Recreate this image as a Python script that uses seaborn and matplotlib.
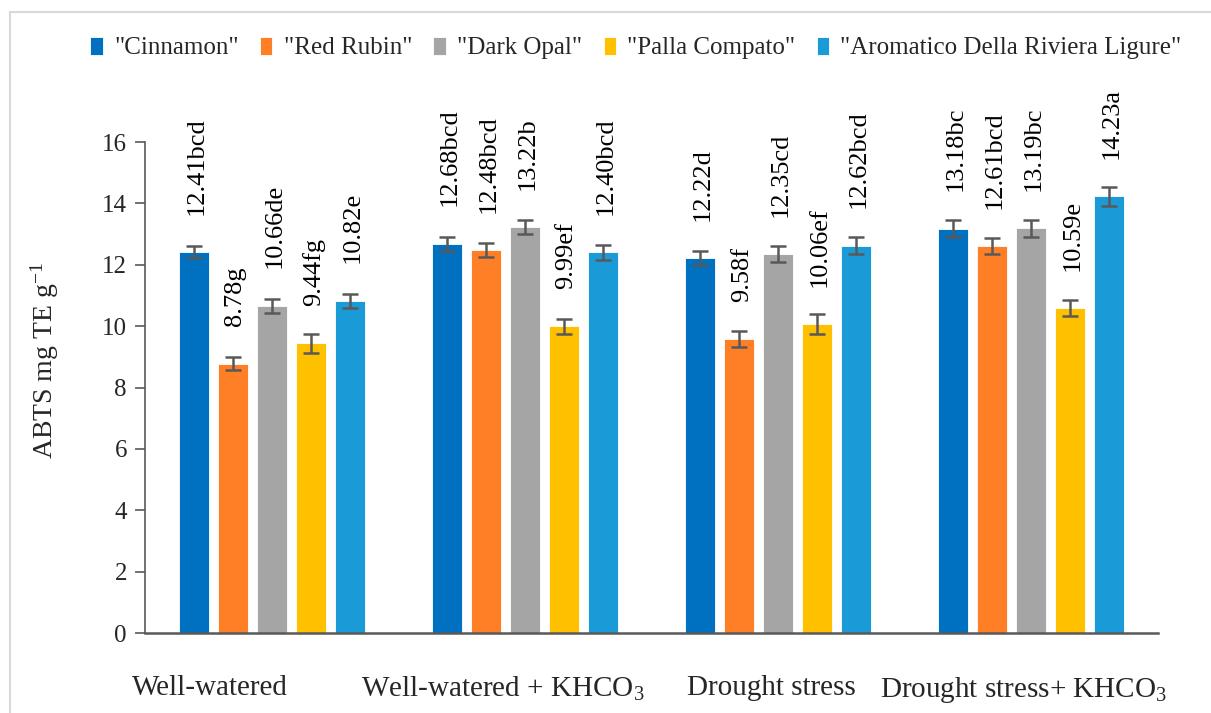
import pandas as pd
import seaborn as sns
import matplotlib.pyplot as plt
from matplotlib.patches import Rectangle
from matplotlib.transforms import ScaledTranslation

# data
treatments = ["Well-watered", "Well-watered + KHCO$_3$", "Drought stress", "Drought stress+ KHCO$_3$"]
cultivars = ['"Cinnamon"', '"Red Rubin"', '"Dark Opal"', '"Palla Compato"', '"Aromatico Della Riviera Ligure"']
colors = ["#0070C0", "#FF7F27", "#A5A5A5", "#FFC000", "#1A9BD7"]

cinnamon = [12.41, 12.68, 12.22, 13.18]
red_rubin = [8.78, 12.48, 9.58, 12.61]
dark_opal = [10.66, 13.22, 12.35, 13.19]
palla = [9.44, 9.99, 10.06, 10.59]
aromatico = [10.82, 12.40, 12.62, 14.23]

cinnamon_err = [0.20, 0.23, 0.22, 0.29]
red_rubin_err = [0.20, 0.22, 0.25, 0.27]
dark_opal_err = [0.24, 0.23, 0.25, 0.27]
palla_err = [0.31, 0.23, 0.33, 0.26]
aromatico_err = [0.24, 0.24, 0.27, 0.32]

cinnamon_let = ["bcd", "bcd", "d", "bc"]
red_rubin_let = ["g", "bcd", "f", "bcd"]
dark_opal_let = ["de", "b", "cd", "bc"]
palla_let = ["fg", "ef", "ef", "e"]
aromatico_let = ["e", "bcd", "bcd", "a"]

values = [cinnamon, red_rubin, dark_opal, palla, aromatico]
errors = [cinnamon_err, red_rubin_err, dark_opal_err, palla_err, aromatico_err]
letters = [cinnamon_let, red_rubin_let, dark_opal_let, palla_let, aromatico_let]

rows = []
for c, vals in zip(cultivars, values):
    for t, v in zip(treatments, vals):
        rows.append({"treatment": t, "cultivar": c, "value": v})
df = pd.DataFrame(rows)

sns.set_theme(style="white")
plt.rcParams['font.family'] = ['Liberation Serif', 'DejaVu Serif']
plt.rcParams['mathtext.fontset'] = 'custom'
plt.rcParams['mathtext.rm'] = 'Liberation Serif'
plt.rcParams['mathtext.it'] = 'Liberation Serif:italic'

fig = plt.figure(figsize=(12.11, 7.13), dpi=100)
ax = fig.add_axes([0.1197, 0.1122, 0.8365, 0.6886])

sns.barplot(data=df, x="treatment", y="value", hue="cultivar", palette=colors,
            saturation=1, width=0.77, gap=0.23, errorbar=None, ax=ax, legend=True,
            edgecolor="white", linewidth=0.6)

# error bars and labels on top of the bars
for cont, errs, lets in zip(ax.containers, errors, letters):
    for bar, e, l in zip(cont, errs, lets):
        x = bar.get_x() + bar.get_width() / 2
        h = bar.get_height()
        ax.errorbar(x, h, yerr=e, fmt="none", ecolor="#595959", elinewidth=1.8,
                    capsize=6, capthick=1.8)
        ax.annotate(f"{h:.2f}{l}", (x, h), xytext=(2, 27), textcoords="offset points",
                    rotation=90, ha="center", va="bottom", fontsize=19, color="black")

ax.set_ylim(0, 16)
ax.set_yticks(range(0, 17, 2))
ax.set_xlim(-0.5, 3.5)
ax.set_xlabel("")
ax.set_ylabel("ABTS mg TE g$^{-1}$", fontsize=20)
ax.yaxis.set_label_coords(-0.083, 0.555)
ax.tick_params(axis="y", which="both", left=True, length=7, width=1.2, color="#595959",
               labelsize=18, pad=6)
ax.tick_params(axis="x", bottom=False, labelsize=21, pad=24)

# Excel-style label offsets
shifts = [-62, -22, -7, -8]
for lab, s in zip(ax.get_xticklabels(), shifts):
    lab.set_transform(lab.get_transform() + ScaledTranslation(s / 100, 0, fig.dpi_scale_trans))

sns.despine(ax=ax, top=True, right=True)
ax.spines["left"].set_color("#595959")
ax.spines["bottom"].set_color("#595959")
ax.spines["left"].set_linewidth(1.2)
ax.spines["bottom"].set_linewidth(1.8)

ax.get_legend().remove()
handles, labels = ax.get_legend_handles_labels()
fig.legend(handles, labels, loc="center", bbox_to_anchor=(636 / 1211, 1 - 48 / 713),
           ncol=5, frameon=False, fontsize=18, handlelength=0.5, handleheight=0.75,
           handletextpad=0.45, columnspacing=0.85)

# light frame around the figure
fig.patches.append(Rectangle((10 / 1211, -0.1), 1.2, 1.1 - 13 / 713 + 0.001,
                             transform=fig.transFigure, fill=False,
                             edgecolor="#d9d9d9", linewidth=1.5, clip_on=False))

fig.savefig("out.png", dpi=100)
